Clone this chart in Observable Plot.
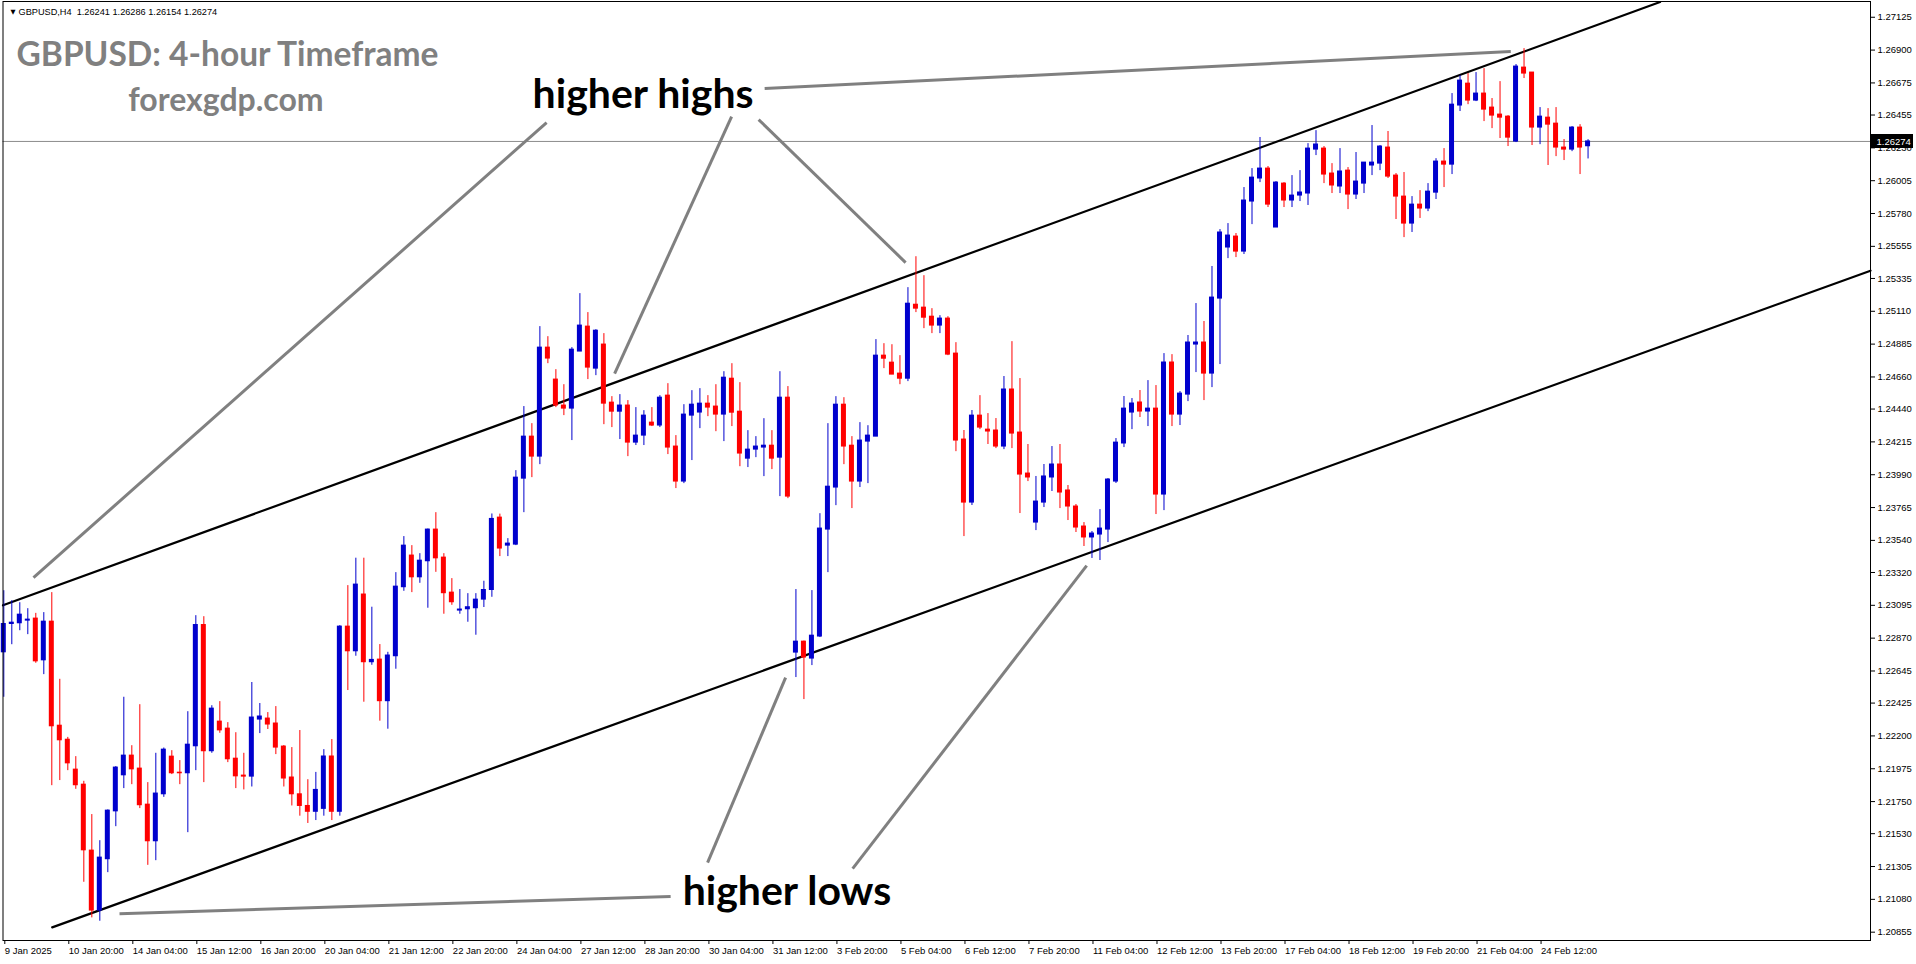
<!DOCTYPE html>
<html><head><meta charset="utf-8">
<script src="https://cdn.jsdelivr.net/npm/d3@7"></script>
<script src="https://cdn.jsdelivr.net/npm/@observablehq/plot@0.6"></script>
<style>html,body{margin:0;padding:0;background:#fff;} svg{display:block}</style>
</head><body><div id="chart"></div>
<script>
// ---- data (GBPUSD H4, bar index 0 = 9 Jan 2025 12:00) ----
const opens = [
1.22773,1.22967,1.22972,1.22990,1.23004,1.22718,1.22983,1.22270,1.22174,1.21969,
1.21866,1.21414,1.21003,1.21355,1.21683,1.21930,1.22065,1.21976,1.21729,1.21478,
1.21800,1.22058,1.21948,1.21944,1.22129,1.22960,1.22095,1.22298,1.22250,1.22044,
1.21928,1.21921,1.22312,1.22319,1.22285,1.22127,1.21915,1.21800,1.21720,1.21680,
1.21700,1.22059,1.21680,1.22949,1.22780,1.23169,1.22705,1.22723,1.22438,1.22746,
1.23219,1.23436,1.23287,1.23397,1.23614,1.23422,1.23182,1.23059,1.23068,1.23075,
1.23134,1.23200,1.23696,1.23504,1.23511,1.23963,1.24251,1.24114,1.24861,1.24642,
1.24464,1.24443,1.24834,1.25005,1.24717,1.24882,1.24484,1.24422,1.24464,1.24210,
1.24258,1.24347,1.24327,1.24532,1.24183,1.23943,1.24395,1.24416,1.24477,1.24457,
1.24402,1.24648,1.24422,1.24100,1.24162,1.24176,1.24189,1.24107,1.24518,1.22771,
1.22846,1.22730,1.22881,1.23614,1.23902,1.24470,1.24189,1.23943,1.24217,1.24251,
1.24806,1.24758,1.24683,1.24648,1.25155,1.25135,1.25073,1.25012,1.25060,1.24820,
1.24231,1.23799,1.24395,1.24299,1.24293,1.24183,1.24574,1.24279,1.23998,1.23662,
1.23799,1.23971,1.24060,1.23882,1.23772,1.23635,1.23560,1.23580,1.23614,1.23943,
1.24204,1.24416,1.24485,1.24423,1.24443,1.23854,1.24759,1.24402,1.24539,1.24882,
1.24896,1.24683,1.25197,1.25547,1.25622,1.25519,1.25862,1.26020,1.26088,1.25684,
1.25985,1.25869,1.25903,1.25917,1.26218,1.26225,1.26054,1.25965,1.26074,1.25910,
1.25985,1.26109,1.26122,1.26232,1.26040,1.25896,1.25711,1.25841,1.25814,1.25923,
1.26136,1.26115,1.26520,1.26670,1.26554,1.26602,1.26506,1.26458,1.26444,1.26273,
1.26780,1.26746,1.26369,1.26437,1.26396,1.26232,1.26218,1.26369,1.26241];
const highs = [
1.23195,1.23127,1.23113,1.23072,1.23040,1.23045,1.23182,1.22588,1.22190,1.22058,
1.21889,1.21661,1.21482,1.21693,1.21990,1.22465,1.22133,1.22414,1.21880,1.22081,
1.22117,1.22099,1.22031,1.22366,1.23024,1.23017,1.22407,1.22435,1.22291,1.22222,
1.22081,1.22566,1.22422,1.22360,1.22401,1.22134,1.22120,1.22237,1.21900,1.21950,
1.22106,1.22175,1.22956,1.23230,1.23418,1.23418,1.23082,1.22826,1.22773,1.23319,
1.23566,1.23504,1.23449,1.23618,1.23730,1.23449,1.23278,1.23203,1.23175,1.23175,
1.23260,1.23721,1.23720,1.23552,1.24018,1.24457,1.24340,1.25005,1.24936,1.24710,
1.24607,1.24861,1.25231,1.25101,1.24984,1.24957,1.24525,1.24539,1.24498,1.24450,
1.24429,1.24450,1.24532,1.24614,1.24258,1.24470,1.24566,1.24580,1.24532,1.24607,
1.24696,1.24751,1.24621,1.24292,1.24251,1.24374,1.24292,1.24696,1.24594,1.23203,
1.22850,1.23196,1.23723,1.24340,1.24525,1.24518,1.24251,1.24347,1.24326,1.24916,
1.24888,1.24881,1.24806,1.25272,1.25484,1.25354,1.25128,1.25080,1.25073,1.24895,
1.24293,1.24430,1.24532,1.24409,1.24375,1.24663,1.24902,1.24649,1.24197,1.23978,
1.24060,1.24183,1.24197,1.23916,1.23786,1.23662,1.23601,1.23751,1.23964,1.24238,
1.24526,1.24512,1.24567,1.24635,1.24601,1.24820,1.24813,1.24560,1.24944,1.25163,
1.25040,1.25417,1.25670,1.25711,1.25643,1.25958,1.26088,1.26301,1.26102,1.25999,
1.25992,1.26040,1.26074,1.26259,1.26348,1.26239,1.26122,1.26225,1.26095,1.26198,
1.26129,1.26383,1.26246,1.26342,1.26054,1.26061,1.25896,1.25937,1.25985,1.26156,
1.26225,1.26602,1.26725,1.26739,1.26746,1.26773,1.26568,1.26684,1.26451,1.26801,
1.26910,1.26746,1.26506,1.26499,1.26506,1.26287,1.26376,1.26389,1.26286];
const lows = [
1.22465,1.22825,1.22921,1.22894,1.22698,1.22620,1.21859,1.21894,1.21962,1.21834,
1.21197,1.20953,1.20930,1.21263,1.21578,1.21839,1.21866,1.21702,1.21313,1.21345,
1.21779,1.21935,1.21866,1.21537,1.21962,1.21880,1.22081,1.22218,1.22017,1.21839,
1.21830,1.21850,1.22216,1.22244,1.22072,1.21850,1.21720,1.21650,1.21600,1.21620,
1.21650,1.21620,1.21650,1.22511,1.22746,1.22431,1.22684,1.22301,1.22246,1.22657,
1.23191,1.23182,1.23246,1.23075,1.23321,1.23034,1.23095,1.23034,1.22979,1.22890,
1.23080,1.23150,1.23429,1.23429,1.23504,1.23730,1.23970,1.24059,1.24751,1.24450,
1.24395,1.24224,1.24834,1.24642,1.24669,1.24333,1.24313,1.24231,1.24114,1.24190,
1.24190,1.24320,1.24313,1.24128,1.23895,1.23929,1.24087,1.24306,1.24388,1.24285,
1.24217,1.24320,1.24045,1.24039,1.24107,1.23977,1.24025,1.23840,1.23826,1.22600,
1.22449,1.22682,1.22874,1.23319,1.23778,1.24059,1.23758,1.23902,1.23929,1.24251,
1.24717,1.24676,1.24607,1.24628,1.25101,1.24991,1.24957,1.24957,1.24806,1.24148,
1.23566,1.23779,1.24299,1.24197,1.24169,1.24162,1.24169,1.23724,1.23943,1.23607,
1.23765,1.23875,1.23758,1.23676,1.23594,1.23498,1.23416,1.23402,1.23525,1.23930,
1.24176,1.24299,1.24382,1.24320,1.23717,1.23744,1.24320,1.24327,1.24491,1.24690,
1.24498,1.24587,1.24745,1.25471,1.25478,1.25499,1.25704,1.25992,1.25821,1.25684,
1.25821,1.25821,1.25862,1.25835,1.26177,1.25985,1.25917,1.25917,1.25807,1.25876,
1.25917,1.26040,1.26074,1.26020,1.25739,1.25615,1.25650,1.25746,1.25793,1.25876,
1.25958,1.26047,1.26479,1.26526,1.26547,1.26410,1.26362,1.26294,1.26239,1.26266,
1.26705,1.26246,1.26252,1.26109,1.26170,1.26143,1.26204,1.26047,1.26154];
const closes = [
1.22967,1.22976,1.23031,1.22997,1.22711,1.22983,1.22266,1.22170,1.22012,1.21862,
1.21416,1.21003,1.21366,1.21688,1.21983,1.22065,1.21971,1.21725,1.21478,1.21805,
1.22106,1.21944,1.21944,1.22140,1.22960,1.22095,1.22387,1.22238,1.22040,1.21923,
1.21921,1.22326,1.22333,1.22278,1.22120,1.21908,1.21800,1.21720,1.21680,1.21830,
1.22059,1.21680,1.22949,1.22780,1.23237,1.22705,1.22721,1.22438,1.22751,1.23223,
1.23504,1.23287,1.23401,1.23614,1.23417,1.23178,1.23116,1.23066,1.23082,1.23134,
1.23200,1.23687,1.23484,1.23518,1.23970,1.24251,1.24114,1.24861,1.24786,1.24464,
1.24443,1.24847,1.25012,1.24724,1.24977,1.24477,1.24422,1.24464,1.24210,1.24258,
1.24395,1.24327,1.24518,1.24176,1.23943,1.24402,1.24470,1.24477,1.24450,1.24402,
1.24655,1.24415,1.24135,1.24162,1.24183,1.24189,1.24100,1.24518,1.23840,1.22846,
1.22737,1.22887,1.23621,1.23908,1.24470,1.24183,1.23943,1.24224,1.24258,1.24806,
1.24785,1.24676,1.24648,1.25162,1.25128,1.25066,1.25012,1.25060,1.24813,1.24224,
1.23799,1.24395,1.24313,1.24286,1.24183,1.24574,1.24272,1.23991,1.23971,1.23806,
1.23978,1.24060,1.23868,1.23772,1.23628,1.23560,1.23587,1.23621,1.23957,1.24210,
1.24443,1.24478,1.24423,1.24443,1.23854,1.24759,1.24402,1.24546,1.24896,1.24896,
1.24683,1.25204,1.25650,1.25629,1.25519,1.25869,1.26026,1.26088,1.25841,1.25992,
1.25869,1.25903,1.25924,1.26225,1.26253,1.26047,1.25972,1.26068,1.25910,1.25999,
1.26129,1.26129,1.26239,1.26033,1.25896,1.25711,1.25841,1.25814,1.25930,1.26136,
1.26115,1.26526,1.26691,1.26554,1.26602,1.26492,1.26451,1.26437,1.26300,1.26787,
1.26739,1.26369,1.26444,1.26389,1.26232,1.26218,1.26369,1.26232,1.26274];

const timeTickIndex = [0,8,16,24,32,40,48,56,64,72,80,88,96,104,112,120,128,136,144,152,160,168,176,184,192];
const timeTickLabels = ["9 Jan 2025","10 Jan 20:00","14 Jan 04:00","15 Jan 12:00","16 Jan 20:00","20 Jan 04:00",
  "21 Jan 12:00","22 Jan 20:00","24 Jan 04:00","27 Jan 12:00","28 Jan 20:00","30 Jan 04:00","31 Jan 12:00",
  "3 Feb 20:00","5 Feb 04:00","6 Feb 12:00","7 Feb 20:00","11 Feb 04:00","12 Feb 12:00","13 Feb 20:00",
  "17 Feb 04:00","18 Feb 12:00","19 Feb 20:00","21 Feb 04:00","24 Feb 12:00"];
const priceTickLabels = ["1.27125","1.26900","1.26675","1.26455","1.26230","1.26005","1.25780","1.25555",
  "1.25335","1.25110","1.24885","1.24660","1.24440","1.24215","1.23990","1.23765","1.23540","1.23320",
  "1.23095","1.22870","1.22645","1.22425","1.22200","1.21975","1.21750","1.21530","1.21305","1.21080","1.20855"];
const currentPrice = 1.26274;
const headerText = "GBPUSD,H4  1.26241 1.26286 1.26154 1.26274";
const titleText = "GBPUSD: 4-hour Timeframe";
const siteText = "forexgdp.com";

// channel lines (bar index, price)
const upperChannelIndex = [-0.1, 207];
const upperChannelPrice = [1.23095, 1.27229];
const lowerChannelIndex = [6.05, 233.3];
const lowerChannelPrice = [1.20888, 1.25388];

// grey pointer lines
const pointerFromIndex = [95.09, 67.84, 90.96, 94.34, 83.34, 87.96, 106.09];
const pointerFromPrice = [1.26636, 1.26403, 1.26444, 1.26424, 1.21099, 1.21332, 1.21291];
const pointerToIndex   = [188.34, 3.71, 76.34, 112.71, 14.46, 97.71, 135.34];
const pointerToPrice   = [1.26890, 1.23285, 1.24683, 1.25444, 1.20982, 1.22600, 1.23367];

// annotation labels
const noteText  = ["higher highs", "higher lows"];
const noteIndex = [66.09, 84.84];
const notePrice = [1.26502, 1.21044];

// ---- build ----
const candles = opens.map((o, i) => ({i, open: o, high: highs[i], low: lows[i], close: closes[i]}));
const BULL = "#0000CD", BEAR = "#FF0000";
const col = d => d.close >= d.open ? BULL : BEAR;
const priceTickValues = priceTickLabels.map(Number);
const upperLine = upperChannelIndex.map((x, k) => ({x, y: upperChannelPrice[k]}));
const lowerLine = lowerChannelIndex.map((x, k) => ({x, y: lowerChannelPrice[k]}));
const pointers = pointerFromIndex.map((x1, k) => ({x1, y1: pointerFromPrice[k], x2: pointerToIndex[k], y2: pointerToPrice[k]}));
const notes = noteText.map((t, k) => ({t, x: noteIndex[k], y: notePrice[k]}));

const chart = Plot.plot({
  width: 1916, height: 964,
  marginLeft: 2.5, marginRight: 46, marginTop: 1, marginBottom: 24,
  x: {domain: [-0.1, 233.3], label: null},
  y: {domain: [1.20798, 1.27233], label: null},
  style: {fontFamily: "Liberation Sans", fontSize: "10px", background: "white", color: "black", overflow: "visible"},
  marks: [
    Plot.ruleY([currentPrice], {stroke: "#8c8c8c", strokeWidth: 1}),
    Plot.line(upperLine, {x: "x", y: "y", stroke: "black", strokeWidth: 2.2}),
    Plot.line(lowerLine, {x: "x", y: "y", stroke: "black", strokeWidth: 2.2}),
    Plot.link(pointers, {x1: "x1", y1: "y1", x2: "x2", y2: "y2", stroke: "#808080", strokeWidth: 3}),
    Plot.ruleX(candles, {x: "i", y1: "low", y2: "high", stroke: col, strokeWidth: 1}),
    Plot.rect(candles, {x1: d => d.i - 0.3125, x2: d => d.i + 0.3125, y1: "open", y2: "close", fill: col, insetTop: -0.5, insetBottom: -0.5}),
    Plot.frame({stroke: "black", strokeWidth: 1}),
    Plot.axisY(priceTickValues, {anchor: "right", tickSize: 4, tickPadding: 3, label: null,
      tickFormat: d => priceTickLabels[priceTickValues.indexOf(d)], fontSize: 9.5, fontFamily: "Liberation Sans"}),
    Plot.axisX(timeTickIndex, {anchor: "bottom", tickSize: 4, tickPadding: 3, label: null, textAnchor: "start", dx: 1,
      tickFormat: d => timeTickLabels[timeTickIndex.indexOf(d)], fontSize: 9.5, fontFamily: "Liberation Sans"}),
    Plot.text(notes, {x: "x", y: "y", text: "t", textAnchor: "start", lineAnchor: "bottom",
      fontFamily: "Lato", fontWeight: "bold", fontSize: 41, fill: "black"}),
    Plot.text([titleText], {frameAnchor: "top-left", dx: 13.5, dy: 64, text: d => d, textAnchor: "start", lineAnchor: "bottom",
      fontFamily: "Lato", fontWeight: "bold", fontSize: 33.5, fill: "#808080"}),
    Plot.text([siteText], {frameAnchor: "top-left", dx: 223, dy: 109, text: d => d, textAnchor: "middle", lineAnchor: "bottom",
      fontFamily: "Lato", fontWeight: "bold", fontSize: 32, fill: "#808080"}),
    Plot.text([headerText], {frameAnchor: "top-left", dx: 15.5, dy: 13, text: d => d, textAnchor: "start", lineAnchor: "bottom",
      fontFamily: "Liberation Sans", fontSize: 9.2, fill: "black"}),
    Plot.text(["\u25BC"], {frameAnchor: "top-left", dx: 10, dy: 12, text: d => d, textAnchor: "middle", lineAnchor: "bottom",
      fontFamily: "DejaVu Sans", fontSize: 6.5, fill: "black"}),
    (index, scales, values, dimensions) => {
      const y = Math.round(scales.y(currentPrice));
      const x0 = dimensions.width - dimensions.marginRight;
      const g = d3.create("svg:g");
      g.append("rect").attr("x", x0 + 1).attr("y", y - 7).attr("width", 42).attr("height", 14).attr("fill", "black");
      g.append("text").attr("x", x0 + 6.5).attr("y", y + 3.5).attr("fill", "white").attr("text-anchor", "start")
        .attr("font-family", "Liberation Sans").attr("font-size", 9.5).text(currentPrice.toFixed(5));
      return g.node();
    }
  ]
});
document.getElementById("chart").appendChild(chart);
</script>
</body></html>
